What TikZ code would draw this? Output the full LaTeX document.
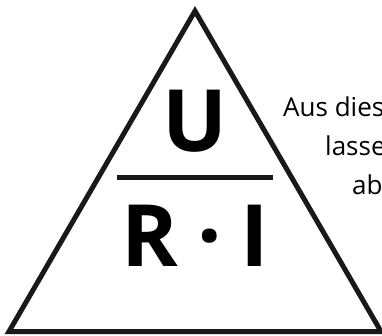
\documentclass[tikz,border=0pt]{standalone}
\usepackage{fontspec}
\setmainfont{Open Sans}
\begin{document}
\begin{tikzpicture}[x=1pt,y=-1pt,
  edge/.style={line width=5pt,line join=miter,draw=black!90},
  big/.style={font=\fontsize{86}{90}\selectfont\bfseries,inner sep=0pt,anchor=base},
  note/.style={font=\fontsize{26}{30}\selectfont,inner sep=0pt,anchor=base west}]
\useasboundingbox (0,0) rectangle (382,336);
\clip (0,0) rectangle (382,336);
\coordinate (apex) at (195,11);
\coordinate (bl) at (9,331.5);
\coordinate (br) at (381,331.5);
\coordinate (hl) at (117,177.5);
\coordinate (hr) at (273,177.5);
\draw[edge] (apex) -- (bl) -- (br) -- cycle;
\draw[line width=5pt,draw=black!90] (hl) -- (hr);
\node[big] (u) at (195,152) {U};
\node[big] (ri) at (195,266) {R\hspace{20pt}·\hspace{18pt}I};
\node[note] (t1) at (283,117) {Aus dies};
\node[note] (t2) at (325,156) {lasse};
\node[note] (t3) at (352,195) {ab};
\end{tikzpicture}
\end{document}
